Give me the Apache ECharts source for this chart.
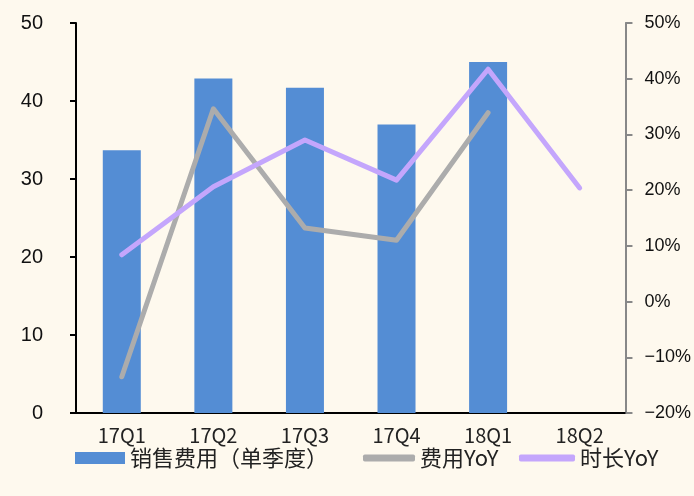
<!DOCTYPE html>
<html>
<head>
<meta charset="utf-8">
<script src="https://cdn.jsdelivr.net/npm/echarts@6/dist/echarts.min.js"></script>
<style>
  html, body { margin: 0; padding: 0; background: #FEF9EE; }
  #main { width: 694px; height: 496px; }
</style>
</head>
<body>
<div id="main"></div>
<script>
// quarters
const quarters = ['17Q1', '17Q2', '17Q3', '17Q4', '18Q1', '18Q2'];
// 销售费用 (单季度), left axis
const salesCost = [33.7, 42.9, 41.7, 37.0, 45.0, null];
// 费用YoY, right axis (%)
const costYoY = [-13.5, 34.6, 13.2, 11.0, 33.9, null];
// 时长YoY, right axis (%)
const durationYoY = [8.4, 20.6, 29.0, 21.8, 41.7, 20.4];

const names = ['销售费用（单季度）', '费用YoY', '时长YoY'];

function pct(v) {
  return (v < 0 ? '\u2212' + (-v) : v) + '%';
}

const legendText = { fontFamily: 'Noto Sans CJK SC', fontSize: 22, color: '#222' };

const chart = echarts.init(document.getElementById('main'));
chart.setOption({
  backgroundColor: '#FEF9EE',
  animation: false,
  grid: { left: 76, right: 68, top: 23, bottom: 83 },
  legend: [
    { left: 70, top: 442, itemWidth: 50, itemHeight: 12, textStyle: legendText,
      data: [{ name: names[0], icon: 'rect' }] },
    { left: 358, top: 442, itemWidth: 52, itemHeight: 7, textStyle: legendText,
      data: [{ name: names[1], icon: 'roundRect' }] },
    { left: 514, top: 442, itemWidth: 56, itemHeight: 7, textStyle: legendText,
      data: [{ name: names[2], icon: 'roundRect' }] }
  ],
  xAxis: {
    type: 'category',
    data: quarters,
    axisLine: { lineStyle: { color: '#000', width: 2 } },
    axisTick: { length: 7, lineStyle: { color: '#000', width: 2 } },
    axisLabel: { color: '#222', fontFamily: 'Noto Sans CJK SC', fontSize: 20, margin: 12 }
  },
  yAxis: [
    {
      type: 'value', min: 0, max: 50, interval: 10,
      splitLine: { show: false },
      axisLine: { show: true, lineStyle: { color: '#000', width: 2 } },
      axisTick: { show: true, length: 6, lineStyle: { color: '#000', width: 2 } },
      axisLabel: { color: '#111', fontFamily: 'Liberation Sans', fontSize: 20, margin: 33 }
    },
    {
      type: 'value', min: -20, max: 50, interval: 10,
      splitLine: { show: false },
      axisLine: { show: true, lineStyle: { color: '#888', width: 2 } },
      axisTick: { show: true, length: 7, lineStyle: { color: '#888', width: 2 } },
      axisLabel: { color: '#111', fontFamily: 'Liberation Sans', fontSize: 18, margin: 19, formatter: pct }
    }
  ],
  series: [
    {
      name: names[0], type: 'bar', data: salesCost, barWidth: 38,
      itemStyle: { color: '#548DD4' }
    },
    {
      name: names[1], type: 'line', yAxisIndex: 1, data: costYoY,
      symbol: 'none', z: 3,
      itemStyle: { color: '#ACACAC' },
      lineStyle: { color: '#ACACAC', width: 5, cap: 'round', join: 'round' }
    },
    {
      name: names[2], type: 'line', yAxisIndex: 1, data: durationYoY,
      symbol: 'none', z: 4,
      itemStyle: { color: '#C4A6FC' },
      lineStyle: { color: '#C4A6FC', width: 5, cap: 'round', join: 'round' }
    }
  ]
});
</script>
</body>
</html>
